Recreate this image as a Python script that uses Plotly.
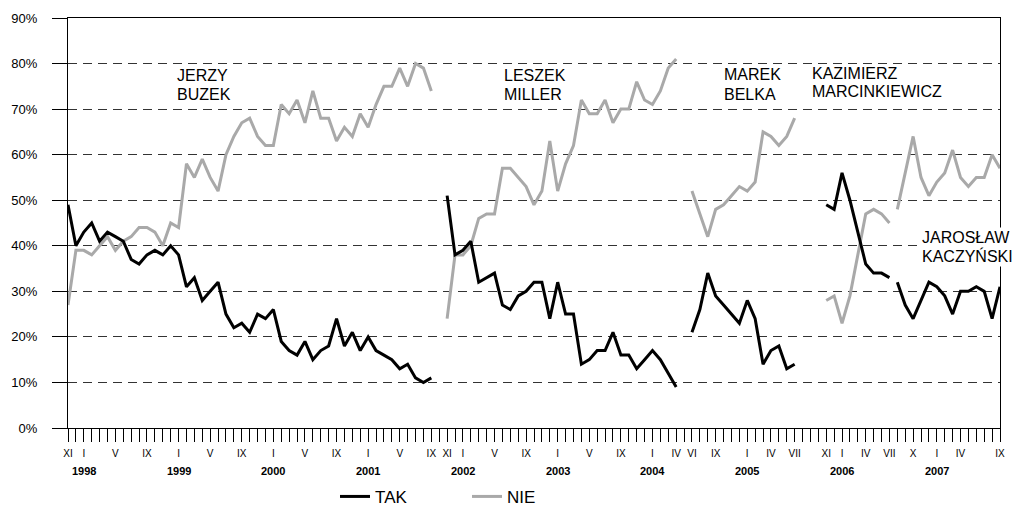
import plotly.graph_objects as go

# ---------------- data ----------------
# monthly categories, Nov 1997 .. Sep 2007
ROMAN = ["I", "II", "III", "IV", "V", "VI", "VII", "VIII", "IX", "X", "XI", "XII"]
months = []
y, m = 1997, 11
while (y, m) <= (2007, 9):
    months.append(f"{y}-{m:02d}")
    m += 1
    if m > 12:
        m, y = 1, y + 1

# tick labels (roman numerals) shown under these months
labelled_months = ["1997-11", "1998-01", "1998-05", "1998-09", "1999-01", "1999-05", "1999-09",
                   "2000-01", "2000-05", "2000-09", "2001-01", "2001-05", "2001-09", "2001-11",
                   "2002-01", "2002-05", "2002-09", "2003-01", "2003-05", "2003-09", "2004-01",
                   "2004-04", "2004-06", "2004-09", "2005-01", "2005-04", "2005-07", "2005-11",
                   "2006-01", "2006-04", "2006-07", "2006-10", "2007-01", "2007-04", "2007-09"]
years = ["1998", "1999", "2000", "2001", "2002", "2003", "2004", "2005", "2006", "2007"]

# governments: start month, TAK (support) and NIE (opposition) in %
buzek_start = "1997-11"
buzek_tak = [49, 40, 43, 45, 41, 43, 42, 41, 37, 36, 38, 39, 38, 40, 38, 31, 33, 28, 30, 32,
             25, 22, 23, 21, 25, 24, 26, 19, 17, 16, 19, 15, 17, 18, 24, 18, 21, 17, 20, 17,
             16, 15, 13, 14, 11, 10, 11]
buzek_nie = [27, 39, 39, 38, 40, 42, 39, 41, 42, 44, 44, 43, 40, 45, 44, 58, 55, 59, 55, 52,
             60, 64, 67, 68, 64, 62, 62, 71, 69, 72, 67, 74, 68, 68, 63, 66, 64, 69, 66, 71,
             75, 75, 79, 75, 80, 79, 74]

miller_start = "2001-11"
miller_tak = [51, 38, 39, 41, 32, 33, 34, 27, 26, 29, 30, 32, 32, 24, 32, 25, 25, 14, 15, 17,
              17, 21, 16, 16, 13, 15, 17, 15, 12, 9]
miller_nie = [24, 38, 38, 40, 46, 47, 47, 57, 57, 55, 53, 49, 52, 63, 52, 58, 62, 72, 69, 69,
              72, 67, 70, 70, 76, 72, 71, 74, 79, 81]

belka_start = "2004-06"
belka_tak = [21, 26, 34, 29, 27, 25, 23, 28, 24, 14, 17, 18, 13, 14]
belka_nie = [52, 47, 42, 48, 49, 51, 53, 52, 54, 65, 64, 62, 64, 68]

marc_start = "2005-11"
marc_tak = [49, 48, 56, 50, 43, 36, 34, 34, 33]
marc_nie = [28, 29, 23, 29, 38, 47, 48, 47, 45]

kacz_start = "2006-08"
kacz_tak = [32, 27, 24, 28, 32, 31, 29, 25, 30, 30, 31, 30, 24, 31]
kacz_nie = [48, 56, 64, 55, 51, 54, 56, 61, 55, 53, 55, 55, 60, 57]

governments = [
    (["JERZY", "BUZEK"], buzek_start, buzek_tak, buzek_nie),
    (["LESZEK", "MILLER"], miller_start, miller_tak, miller_nie),
    (["MAREK", "BELKA"], belka_start, belka_tak, belka_nie),
    (["KAZIMIERZ", "MARCINKIEWICZ"], marc_start, marc_tak, marc_nie),
    (["JAROSŁAW", "KACZYŃSKI"], kacz_start, kacz_tak, kacz_nie),
]

# ---------------- figure ----------------
FONT = "Liberation Sans, Arial, sans-serif"
BLACK = "#000000"
GREY = "#A9A9A9"

fig = go.Figure()
for i, (name, start, tak, nie) in enumerate(governments):
    s = months.index(start)
    xs = months[s:s + len(tak)]
    fig.add_trace(go.Scatter(x=xs, y=nie, mode="lines", name="NIE", legendgroup="NIE",
                             showlegend=(i == 0), legendrank=2,
                             line=dict(color=GREY, width=3)))
    fig.add_trace(go.Scatter(x=xs, y=tak, mode="lines", name="TAK", legendgroup="TAK",
                             showlegend=(i == 0), legendrank=1,
                             line=dict(color=BLACK, width=3)))

ticktext = []
for mo in months:
    if mo in labelled_months:
        ticktext.append(ROMAN[int(mo[5:]) - 1])
    else:
        ticktext.append("")

annotations = []
# year labels under January
for yr in years:
    annotations.append(dict(x=months.index(f"{yr}-01"), y=-0.105, xref="x", yref="paper",
                            text=f"<b>{yr}</b>", showarrow=False, xanchor="center",
                            yanchor="middle", font=dict(family=FONT, size=11, color=BLACK)))

# government names (one annotation per text line)
name_pos = {
    "JERZY": (13.55, 77.3, False), "BUZEK": (13.55, 73.3, False),
    "LESZEK": (54.9, 77.3, False), "MILLER": (54.9, 73.3, False),
    "MAREK": (82.8, 77.5, False), "BELKA": (82.8, 73.3, False),
    "KAZIMIERZ": (94.0, 77.9, False), "MARCINKIEWICZ": (94.0, 73.8, False),
    "JAROSŁAW": (107.9, 41.8, True), "KACZYŃSKI": (107.9, 37.7, True),
}
for name, start, tak, nie in governments:
    for line in name:
        px, py, bg = name_pos[line]
        annotations.append(dict(x=px, y=py, xref="x", yref="y", text=line, showarrow=False,
                                xanchor="left", yanchor="middle",
                                bgcolor="white" if bg else None, borderpad=1,
                                font=dict(family=FONT, size=16, color=BLACK)))

fig.update_layout(
    template="none",
    width=1013, height=519,
    margin=dict(l=68, r=13, t=18, b=91, autoexpand=False),
    paper_bgcolor="white", plot_bgcolor="white",
    font=dict(family=FONT, color=BLACK),
    showlegend=True,
    legend=dict(orientation="h", x=0.2865, xanchor="left", y=-0.168, yanchor="middle",
                font=dict(family=FONT, size=17, color=BLACK),
                entrywidth=87, entrywidthmode="pixels", bgcolor="rgba(0,0,0,0)"),
    annotations=annotations,
    xaxis=dict(type="category", categoryorder="array", categoryarray=months,
               range=[0, len(months) - 1], tickmode="array", tickvals=months, ticktext=ticktext,
               ticks="outside", ticklen=13, tickwidth=1, tickcolor=BLACK,
               tickfont=dict(family=FONT, size=10, color=BLACK), tickangle=0,
               ticklabelstandoff=3, automargin=False,
               showline=True, linecolor=BLACK, linewidth=1, mirror=True,
               showgrid=False, zeroline=False),
    yaxis=dict(range=[0, 90], tickmode="linear", tick0=0, dtick=10, ticksuffix="%",
               ticks="outside", ticklen=15, tickwidth=1, tickcolor=BLACK,
               tickfont=dict(family=FONT, size=13, color=BLACK),
               ticklabelstandoff=12, automargin=False,
               showline=True, linecolor=BLACK, linewidth=1, mirror=True,
               showgrid=True, gridcolor="#333333", gridwidth=1, griddash="9px,6px",
               zeroline=False),
)

fig.write_html("out.html", config={"displayModeBar": False},
               post_script="document.body.style.margin='0';document.body.style.overflow='hidden';")
